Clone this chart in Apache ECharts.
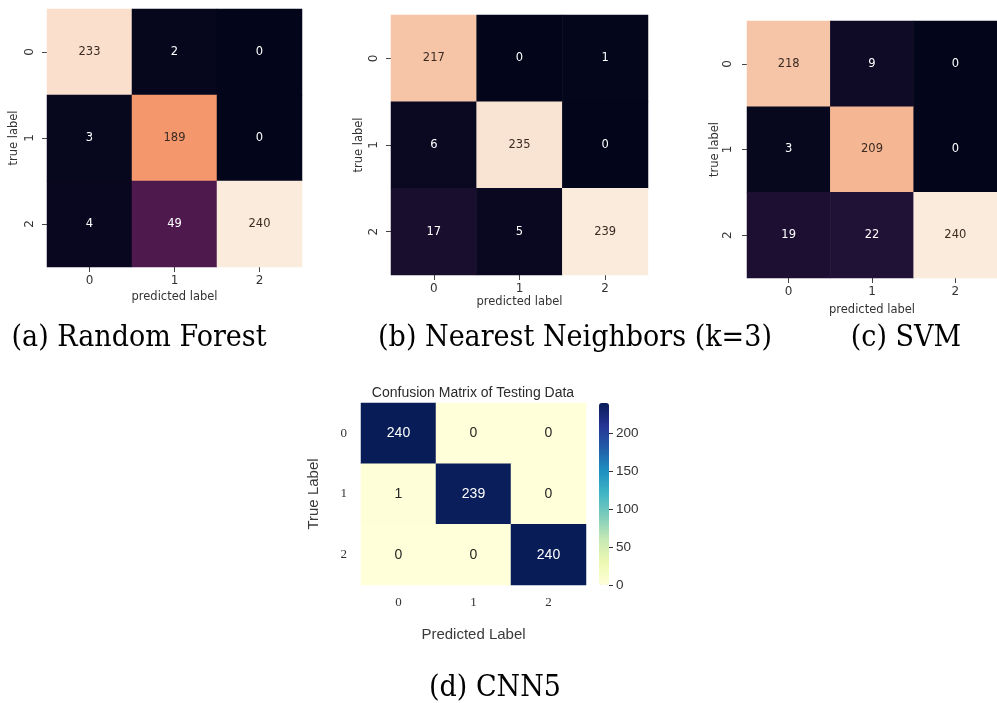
<!DOCTYPE html>
<html>
<head>
<meta charset="utf-8">
<script src="https://cdn.jsdelivr.net/npm/echarts@6/dist/echarts.min.js"></script>
<style>
  html, body { margin: 0; padding: 0; background: #ffffff; }
  #chart { width: 997px; height: 703px; }
</style>
</head>
<body>
<div id="chart"></div>
<script>
// Class labels shared by every confusion matrix (rows = true, columns = predicted)
const classLabels = ['0', '1', '2'];

// Confusion matrices
const rfMatrix  = [[233, 2, 0], [3, 189, 0], [4, 49, 240]];
const knnMatrix = [[217, 0, 1], [6, 235, 0], [17, 5, 239]];
const svmMatrix = [[218, 9, 0], [3, 209, 0], [19, 22, 240]];
const cnnMatrix = [[240, 0, 0], [1, 239, 0], [0, 0, 240]];

// Colour bar tick values for the CNN panel
const colorbarTicks = [0, 50, 100, 150, 200];

// Panel captions and titles
const captions = ['(a) Random Forest', '(b) Nearest Neighbors (k=3)', '(c) SVM', '(d) CNN5'];
const cnnTitle = 'Confusion Matrix of Testing Data';

// Colour maps (evenly spaced stops)
const rocketStops = ['#03051A', '#231238', '#4C1A4D', '#701F57', '#A11A5B', '#CB1B4F',
                     '#E8403E', '#F37A52', '#F49B70', '#F6C1A2', '#FAEBDD'];
const ylgnbuStops = ['#FFFFD9', '#EDF8B1', '#C7E9B4', '#7FCDBB', '#41B6C4',
                     '#1D91C0', '#225EA8', '#253494', '#081D58'];

function hexToRgb(h) {
  return [1, 3, 5].map(i => parseInt(h.slice(i, i + 2), 16));
}
function sampleStops(stops, t) {
  t = Math.max(0, Math.min(1, t));
  const pos = t * (stops.length - 1);
  const i = Math.min(Math.floor(pos), stops.length - 2);
  const f = pos - i;
  const a = hexToRgb(stops[i]), b = hexToRgb(stops[i + 1]);
  return a.map((v, k) => v + (b[k] - v) * f);
}
function luminance(rgb) {
  const c = rgb.map(v => {
    v /= 255;
    return v <= 0.03928 ? v / 12.92 : Math.pow((v + 0.055) / 1.055, 2.4);
  });
  return 0.2126 * c[0] + 0.7152 * c[1] + 0.0722 * c[2];
}

// Convert a matrix into heatmap items; annotation colour follows the cell brightness
function toCells(matrix, stops, dark) {
  const flat = matrix.flat();
  const lo = Math.min(...flat), hi = Math.max(...flat);
  const cells = [];
  matrix.forEach((row, r) => {
    row.forEach((v, c) => {
      const lum = luminance(sampleStops(stops, (v - lo) / (hi - lo)));
      cells.push({ value: [c, r, v], label: { color: lum > 0.408 ? dark : '#ffffff' } });
    });
  });
  return { cells, lo, hi };
}

const rocketPanels = [
  { matrix: rfMatrix,  grid: { left: 47,  top: 9,  width: 255, height: 258 },
    yMargin: 11, yNameGap: 27, xMargin: 8, xNameGap: 24 },
  { matrix: knnMatrix, grid: { left: 391, top: 15, width: 257, height: 260 },
    yMargin: 11, yNameGap: 26, xMargin: 8, xNameGap: 20 },
  { matrix: svmMatrix, grid: { left: 747, top: 21, width: 258, height: 257 },
    yMargin: 13, yNameGap: 26, xMargin: 8, xNameGap: 26 }
];

const sansSmall = 'DejaVu Sans';
const grids = [], xAxes = [], yAxes = [], series = [], visualMaps = [];

rocketPanels.forEach((p, i) => {
  grids.push(Object.assign({ containLabel: false }, p.grid));
  const tick = { show: true, alignWithLabel: true, length: 5, lineStyle: { color: '#444', width: 1 } };
  xAxes.push({
    type: 'category', gridIndex: i, data: classLabels, position: 'bottom',
    axisLine: { show: false }, axisTick: tick, splitLine: { show: false },
    axisLabel: { margin: p.xMargin, fontFamily: sansSmall, fontSize: 12, color: '#333' },
    name: 'predicted label', nameLocation: 'middle', nameGap: p.xNameGap,
    nameTextStyle: { fontFamily: sansSmall, fontSize: 11.5, color: '#333' }
  });
  yAxes.push({
    type: 'category', gridIndex: i, data: classLabels, inverse: true, position: 'left',
    axisLine: { show: false }, axisTick: tick, splitLine: { show: false },
    axisLabel: { margin: p.yMargin, rotate: 90, fontFamily: sansSmall, fontSize: 12, color: '#333' },
    name: 'true label', nameLocation: 'middle', nameGap: p.yNameGap, nameRotate: 90,
    nameTextStyle: { fontFamily: sansSmall, fontSize: 11.5, color: '#333' }
  });
  const d = toCells(p.matrix, rocketStops, '#3a2a22');
  series.push({
    type: 'heatmap', xAxisIndex: i, yAxisIndex: i, data: d.cells,
    label: { show: true, formatter: q => q.value[2], fontFamily: sansSmall, fontSize: 11.5 },
    emphasis: { disabled: true }, itemStyle: { borderWidth: 0 }
  });
  visualMaps.push({
    type: 'continuous', show: false, seriesIndex: i, dimension: 2,
    min: d.lo, max: d.hi, inRange: { color: rocketStops }
  });
});

// CNN panel
const cnnGrid = { left: 361, top: 403, width: 225, height: 182 };
grids.push(cnnGrid);
xAxes.push({
  type: 'category', gridIndex: 3, data: classLabels, position: 'bottom',
  axisLine: { show: false }, axisTick: { show: false }, splitLine: { show: false },
  axisLabel: { margin: 11, fontFamily: 'Liberation Serif', fontSize: 13, color: '#333' },
  name: 'Predicted Label', nameLocation: 'middle', nameGap: 42,
  nameTextStyle: { fontFamily: 'Liberation Sans', fontSize: 15, color: '#3a3a3a' }
});
yAxes.push({
  type: 'category', gridIndex: 3, data: classLabels, inverse: true, position: 'left',
  axisLine: { show: false }, axisTick: { show: false }, splitLine: { show: false },
  axisLabel: { margin: 14, fontFamily: 'Liberation Serif', fontSize: 13, color: '#333' },
  name: 'True Label', nameLocation: 'middle', nameGap: 40, nameRotate: 90,
  nameTextStyle: { fontFamily: 'Liberation Sans', fontSize: 15, color: '#3a3a3a' }
});
const cnn = toCells(cnnMatrix, ylgnbuStops, '#262626');
series.push({
  type: 'heatmap', xAxisIndex: 3, yAxisIndex: 3, data: cnn.cells,
  label: { show: true, formatter: q => q.value[2], fontFamily: 'Liberation Sans', fontSize: 14 },
  emphasis: { disabled: true }, itemStyle: { borderWidth: 0 }
});
const barBox = { left: 599, top: 403, width: 10, height: 182 };
visualMaps.push({
  type: 'continuous', show: true, seriesIndex: 3, dimension: 2,
  min: cnn.lo, max: cnn.hi, inRange: { color: ylgnbuStops },
  orient: 'vertical', align: 'left', left: barBox.left, top: barBox.top, padding: 0,
  itemWidth: barBox.width, itemHeight: barBox.height,
  calculable: false, hoverLink: false, text: null, showLabel: false
});

// Colour bar scale: the axis covers the ticked part of the bar (0 .. last tick)
const tickTop = colorbarTicks[colorbarTicks.length - 1];
const scaleSpan = barBox.height * (tickTop - cnn.lo) / (cnn.hi - cnn.lo);
grids.push({
  left: barBox.left, width: barBox.width,
  top: barBox.top + barBox.height - scaleSpan, height: scaleSpan
});
xAxes.push({ type: 'value', gridIndex: 4, show: false });
yAxes.push({
  type: 'value', gridIndex: 4, position: 'right', z: 10,
  min: colorbarTicks[0], max: tickTop, interval: colorbarTicks[1] - colorbarTicks[0],
  axisLine: { show: false, onZero: false }, splitLine: { show: false },
  axisTick: { show: true, inside: false, length: 4, lineStyle: { color: '#333', width: 1 } },
  axisLabel: { margin: 7, fontFamily: 'Liberation Sans', fontSize: 13.5, color: '#333' }
});

// Captions and title
const captionPos = [[139, 338], [575, 338], [906, 338], [495, 688]];
const graphics = captions.map((t, i) => ({
  type: 'text', x: captionPos[i][0], y: captionPos[i][1], scaleY: 1.1, silent: true,
  style: { text: t, fill: '#000', font: '27px "DejaVu Serif"', textAlign: 'center', textVerticalAlign: 'middle' }
}));
graphics.push({
  type: 'text', x: 473, y: 393, silent: true,
  style: { text: cnnTitle, fill: '#2b2b2b', font: '14px "Liberation Sans"', textAlign: 'center', textVerticalAlign: 'middle' }
});

const chart = echarts.init(document.getElementById('chart'), null, { renderer: 'canvas' });
chart.setOption({
  backgroundColor: '#ffffff',
  animation: false,
  grid: grids,
  xAxis: xAxes,
  yAxis: yAxes,
  visualMap: visualMaps,
  series: series,
  graphic: graphics
});
</script>
</body>
</html>
